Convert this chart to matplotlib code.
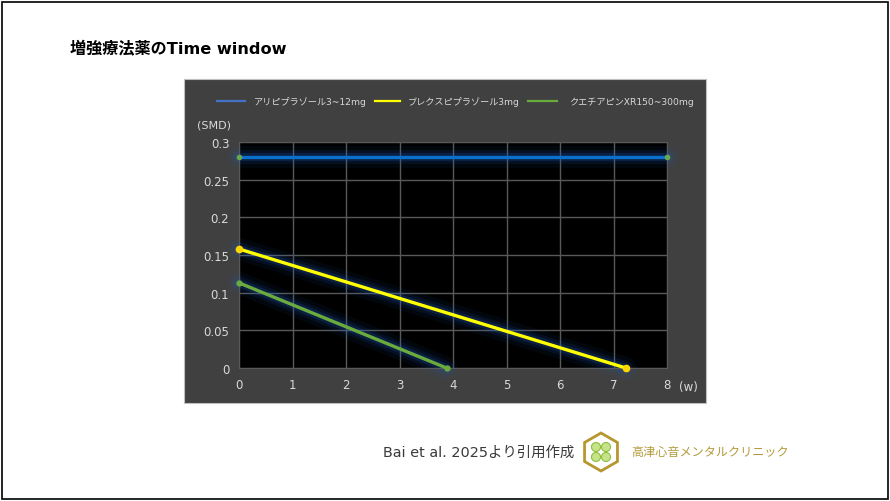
import matplotlib
matplotlib.use("Agg")
import matplotlib.pyplot as plt
from matplotlib.patches import Rectangle, RegularPolygon, Ellipse
from matplotlib.lines import Line2D

plt.rcParams['font.family'] = ['DejaVu Sans', 'Noto Sans CJK JP']

# データ (週, SMD)
x_ari = [0, 8]
y_ari = [0.28, 0.28]
x_brex = [0, 7.23]
y_brex = [0.158, 0.0]
x_que = [0, 3.88]
y_que = [0.113, 0.0]

namen = ["アリピプラゾール3~12mg", "ブレクスピプラゾール3mg", "クエチアピンXR150~300mg"]
x_ticks = [0, 1, 2, 3, 4, 5, 6, 7, 8]
y_ticks = [0, 0.05, 0.1, 0.15, 0.2, 0.25, 0.3]
y_ticklabels = ["0", "0.05", "0.1", "0.15", "0.2", "0.25", "0.3"]

W, H = 890, 502
fig = plt.figure(figsize=(W / 100, H / 100), dpi=100)
fig.patch.set_facecolor("white")


def px(x0, y0, x1, y1):
    # Pixelbox -> figure coords
    return [x0 / W, 1 - y1 / H, (x1 - x0) / W, (y1 - y0) / H]


# Rahmen der Folie
fig.patches.append(Rectangle((2 / W, 2 / H), 886 / W, 497 / H, transform=fig.transFigure,
                             fill=False, edgecolor="black", linewidth=1.2, zorder=-2))
# grauer Diagrammhintergrund
fig.patches.append(Rectangle((184 / W, 1 - 404 / H), 522 / W, 324 / H, transform=fig.transFigure,
                             facecolor="#404040", edgecolor="#bfbfbf", linewidth=0.8, zorder=-1))

fig.text(70 / W, 1 - 48 / H, "増強療法薬のTime window", fontsize=11.6, fontweight="bold",
         va="center", ha="left", color="black")

ax = fig.add_axes(px(239, 143, 667, 369))
ax.set_facecolor("black")
ax.set_xlim(0, 8)
ax.set_ylim(0, 0.3)
ax.set_xticks(x_ticks)
ax.set_yticks(y_ticks)
ax.set_yticklabels(y_ticklabels)
ax.grid(True, color="#595959", linewidth=1.0)
ax.set_axisbelow(True)
for s in ax.spines.values():
    s.set_color("#595959")
ax.tick_params(colors="#d9d9d9", labelsize=8.5, length=0, pad=7)

serien = [
    (x_ari, y_ari, "#0a70cc", "#6aa84f", 3),
    (x_brex, y_brex, "#ffff00", "#ffd700", 4.5),
    (x_que, y_que, "#6aab3e", "#6aab3e", 3.5),
]
for xs, ys, farbe, mfarbe, ms in serien:
    # Leuchteffekt
    for lw, a in [(16, 0.07), (10, 0.12), (6, 0.2)]:
        ax.plot(xs, ys, color="#1f5fbf", linewidth=lw, alpha=a, solid_capstyle="round",
                clip_on=False, zorder=2)
    ax.plot(xs, ys, color=farbe, linewidth=2.4, marker="o", markersize=ms,
            markerfacecolor=mfarbe, markeredgecolor=mfarbe, clip_on=False, zorder=3)

fig.text(197 / W, 1 - 126 / H, "(SMD)", fontsize=8, color="#d9d9d9", va="center", ha="left")
fig.text(679 / W, 1 - 388 / H, "(w)", fontsize=8.5, color="#d9d9d9", va="center", ha="left")

# Legende von Hand gesetzt (Position wie im Original)
leg_farben = ["#4472c4", "#ffff00", "#6aab3e"]
leg_linie = [(217, 245), (375, 400), (528, 557)]
leg_text = [254, 408, 569]
leg_y = 1 - 102 / H
for name, farbe, (l0, l1), tx in zip(namen, leg_farben, leg_linie, leg_text):
    fig.lines.append(Line2D([l0 / W, l1 / W], [leg_y, leg_y], transform=fig.transFigure,
                            color=farbe, linewidth=1.6))
    fig.text(tx / W, leg_y, name, fontsize=6.6, color="#d9d9d9", va="center", ha="left")

# Quelle + Logo
fig.text(383 / W, 1 - 453 / H, "Bai et al. 2025より引用作成", fontsize=10.4, color="#3a3a3a",
         va="center", ha="left")
fig.patches.append(RegularPolygon((601, H - 453), numVertices=6, radius=19, orientation=0,
                                  transform=None, facecolor="white", edgecolor="#b8962e",
                                  linewidth=2))
for dx, dy in [(-5, 5), (5, 5), (-5, -5), (5, -5)]:
    fig.patches.append(Ellipse((601 + dx, H - 453 + dy), 9, 9, transform=None,
                               facecolor="#c7e38a", edgecolor="#8dbf3a", linewidth=0.8))
fig.text(631 / W, 1 - 453 / H, "高津心音メンタルクリニック", fontsize=8.7, color="#b39a3c",
         va="center", ha="left")

fig.savefig("out.png", dpi=100, facecolor="white")
